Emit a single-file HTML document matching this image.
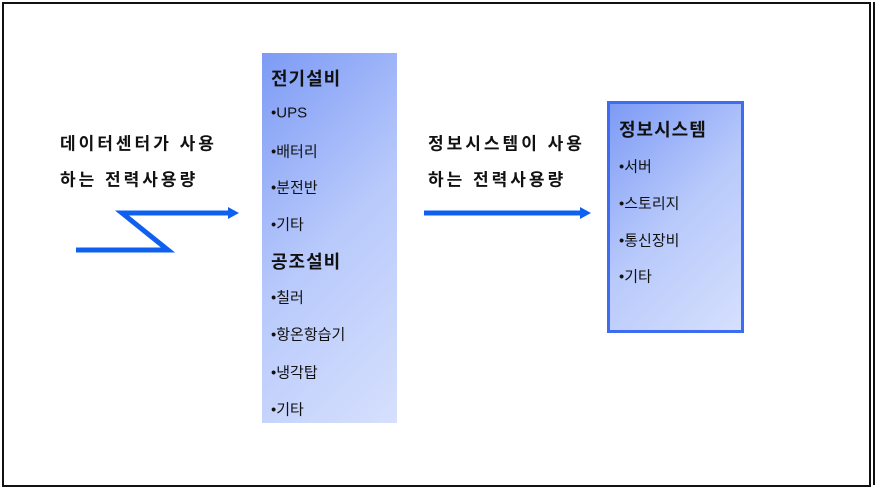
<!DOCTYPE html>
<html><head><meta charset="utf-8"><style>
body{margin:0;width:876px;height:487px;background:#fff;position:relative;overflow:hidden;font-family:"Liberation Sans","Noto Sans CJK KR",sans-serif;color:#111}
.t{position:absolute;white-space:nowrap;transform:translateY(-50%)}
.b{font-weight:bold;font-size:17px;letter-spacing:3px}
.i{font-size:15px}
.h{font-weight:bold;font-size:18px;letter-spacing:1px}
</style></head><body>
<div style="position:absolute;left:2px;top:2px;width:867px;height:481px;border:2px solid #111;border-right:none"></div>
<div style="position:absolute;left:869px;top:2px;width:2px;height:483px;background:#111"></div>
<div style="position:absolute;left:873px;top:2px;width:2px;height:483px;background:#111"></div>
<div style="position:absolute;left:262px;top:53px;width:135px;height:370px;background:linear-gradient(135deg,#7d9bf5 0%,#b8c9fb 50%,#d6e0fd 100%)"></div>
<div style="position:absolute;left:607px;top:101px;width:131px;height:226px;border:3px solid #3d6cf2;background:linear-gradient(135deg,#7d9bf5 0%,#b8c9fb 50%,#d6e0fd 100%)"></div>
<svg style="position:absolute;left:0;top:0" width="876" height="487">
<polyline points="76,250 168,250 122,213 230,213" fill="none" stroke="#1060f0" stroke-width="5"/>
<polygon points="228,207 239,213 228,219" fill="#1060f0"/>
<line x1="424" y1="213" x2="582" y2="213" stroke="#1060f0" stroke-width="5"/>
<polygon points="580,207 591,213 580,219" fill="#1060f0"/>
</svg>
<div class="t b" style="left:60px;top:142px">데이터센터가 사용</div>
<div class="t b" style="left:60px;top:178px">하는 전력사용량</div>
<div class="t b" style="left:428px;top:142px">정보시스템이 사용</div>
<div class="t b" style="left:428px;top:178px">하는 전력사용량</div>
<div class="t h" style="left:271px;top:78px">전기설비</div>
<div class="t i" style="left:271px;top:113px">•UPS</div>
<div class="t i" style="left:271px;top:151px">•배터리</div>
<div class="t i" style="left:271px;top:187px">•분전반</div>
<div class="t i" style="left:271px;top:224px">•기타</div>
<div class="t h" style="left:271px;top:261px">공조설비</div>
<div class="t i" style="left:271px;top:297px">•칠러</div>
<div class="t i" style="left:271px;top:334px">•항온항습기</div>
<div class="t i" style="left:271px;top:372px">•냉각탑</div>
<div class="t i" style="left:271px;top:409px">•기타</div>
<div class="t h" style="left:619px;top:129px">정보시스템</div>
<div class="t i" style="left:619px;top:166px">•서버</div>
<div class="t i" style="left:619px;top:203px">•스토리지</div>
<div class="t i" style="left:619px;top:240px">•통신장비</div>
<div class="t i" style="left:619px;top:276px">•기타</div>
</body></html>
